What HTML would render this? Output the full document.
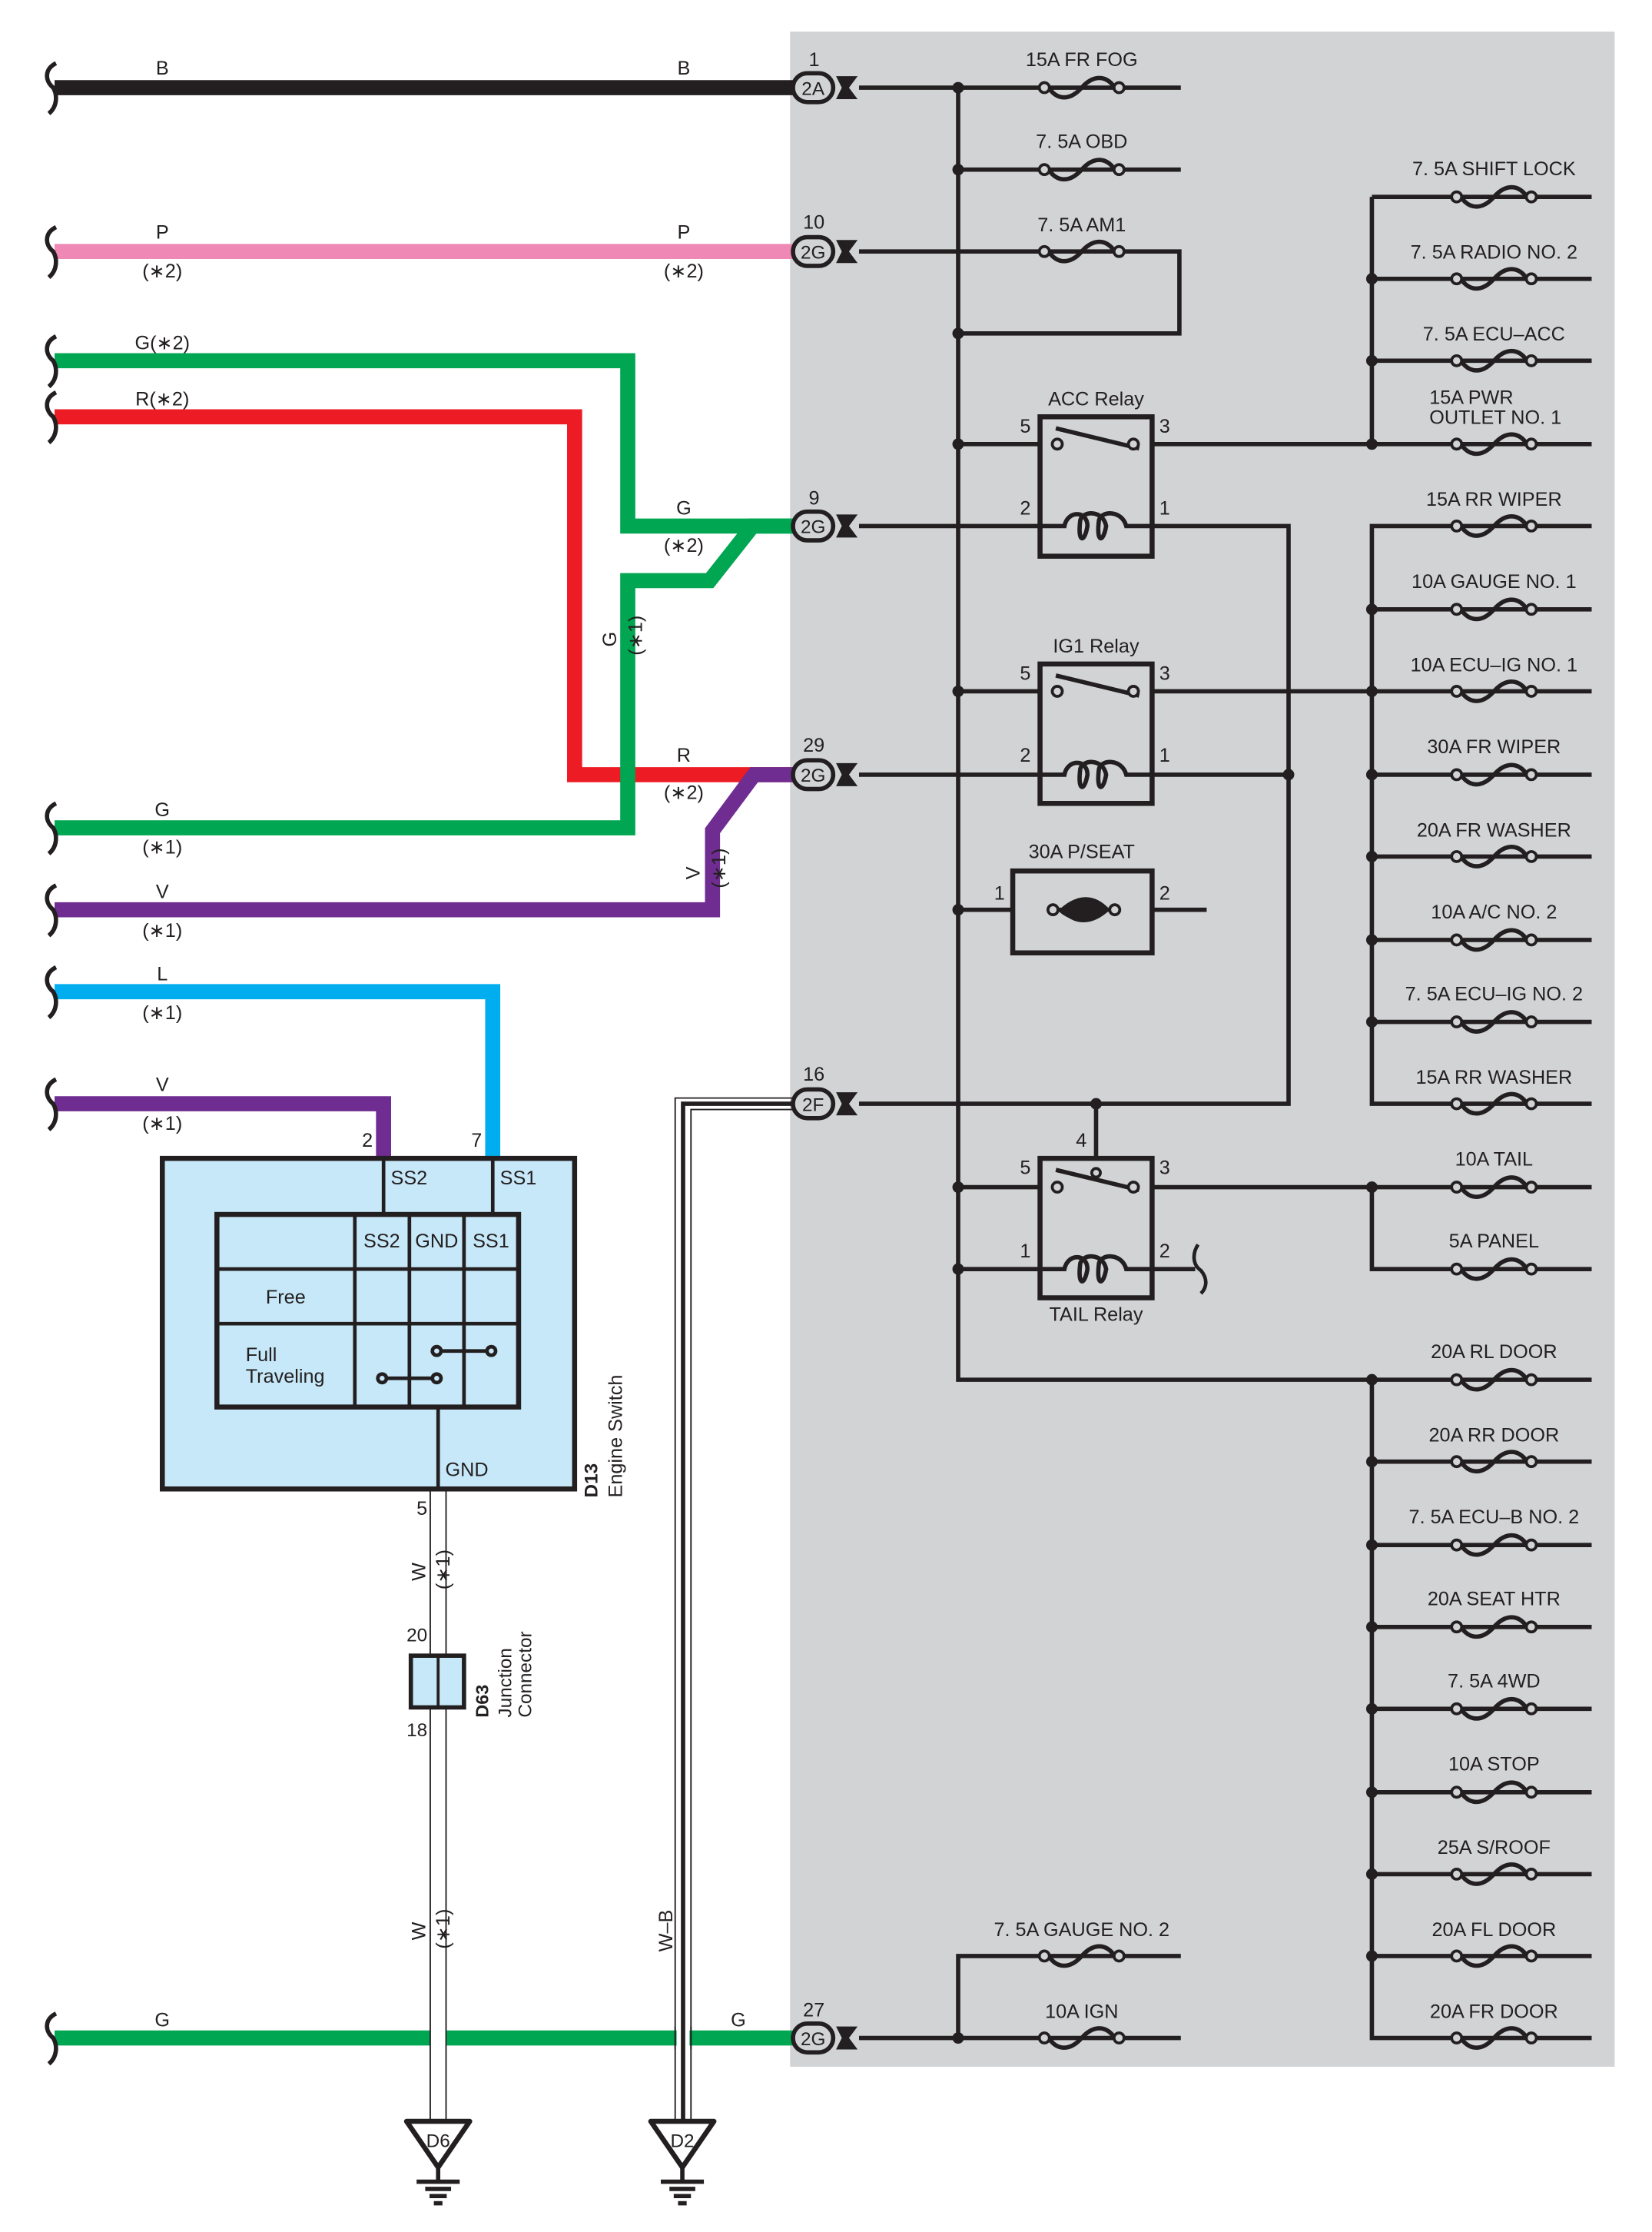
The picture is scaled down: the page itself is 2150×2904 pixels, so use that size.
<!DOCTYPE html>
<html><head><meta charset="utf-8"><style>
html,body{margin:0;padding:0;background:#fff;}
svg{display:block;}
text{font-family:"Liberation Sans",sans-serif;fill:#231f20;}
</style></head><body>
<svg width="2150" height="2904" viewBox="0 0 1150 1553" preserveAspectRatio="none" xmlns="http://www.w3.org/2000/svg">
<defs>
<g id="f"><path d="M-23,0 C-17,9 -8,9 0,0 C8,-9 17,-9 23,0" fill="none" stroke="#231f20" stroke-width="3"/><circle cx="-26" cy="0" r="3.5" fill="#d1d3d4" stroke="#231f20" stroke-width="2"/><circle cx="26" cy="0" r="3.5" fill="#d1d3d4" stroke="#231f20" stroke-width="2"/></g>
<g id="c"><rect x="-14" y="-10" width="28" height="20" rx="10" fill="#d1d3d4" stroke="#231f20" stroke-width="3"/><path d="M16,-8 L31,-8 L25,0 L31,8 L16,8 L20,0 Z" fill="#231f20"/></g>
<path id="br" d="M39,-17 C31,-13 31,-5 37,0 C40,5 40,13 34,18" fill="none" stroke="#231f20" stroke-width="3"/>
<g id="gnd"><path d="M-22,0 L22,0 L0,32 Z" fill="#fff" stroke="#231f20" stroke-width="3.5" stroke-linejoin="round"/><line x1="0" y1="32" x2="0" y2="42" stroke="#231f20" stroke-width="3"/><line x1="-15" y1="42" x2="15" y2="42" stroke="#231f20" stroke-width="3"/><line x1="-9" y1="47" x2="9" y2="47" stroke="#231f20" stroke-width="3"/><line x1="-6" y1="52" x2="6" y2="52" stroke="#231f20" stroke-width="3"/><line x1="-3" y1="57" x2="3" y2="57" stroke="#231f20" stroke-width="3"/></g>
</defs>
<rect x="550" y="22" width="574" height="1416" fill="#d1d3d4"/>

<!-- left wires -->
<g fill="none" stroke-width="10.5" stroke-linejoin="miter">
<path d="M38,61 H553" stroke="#231f20"/>
<path d="M38,175 H553" stroke="#f088b6"/>
<path d="M38,251 H437 V366 H553" stroke="#00a651"/>
<path d="M38,290 H400 V539 H553" stroke="#ed1c24"/>
<path d="M38,576 H437 V404 H494 L524,366 H553" stroke="#00a651"/>
<path d="M38,633 H496 V578 L525,539 H553" stroke="#6f2c91"/>
<path d="M38,690 H343 V806" stroke="#00aeef"/>
<path d="M38,768 H267 V806" stroke="#6f2c91"/>
<path d="M38,1418 H553" stroke="#00a651"/>
</g>
<use href="#br" x="0" y="61"/><use href="#br" x="0" y="175"/><use href="#br" x="0" y="251"/><use href="#br" x="0" y="290"/><use href="#br" x="0" y="576"/><use href="#br" x="0" y="633"/><use href="#br" x="0" y="690"/><use href="#br" x="0" y="768"/><use href="#br" x="0" y="1418"/>

<!-- W wire -->
<rect x="299" y="1036" width="12" height="440" fill="#fff"/>
<line x1="299.5" y1="1036" x2="299.5" y2="1476" stroke="#231f20" stroke-width="1"/>
<line x1="310.5" y1="1036" x2="310.5" y2="1476" stroke="#231f20" stroke-width="1"/>
<!-- W-B wire -->
<path d="M553,764 H470 V1476 M553,772 H481 V1476" fill="none" stroke="#231f20" stroke-width="1"/>
<rect x="471" y="1410" width="9" height="16" fill="#fff"/>
<path d="M553,768 H475.5 V1476" fill="none" stroke="#231f20" stroke-width="3"/>
<line x1="470" y1="1410" x2="470" y2="1426" stroke="#231f20" stroke-width="1"/>
<line x1="481" y1="1410" x2="481" y2="1426" stroke="#231f20" stroke-width="1"/>

<!-- grounds -->
<use href="#gnd" x="305" y="1476"/><use href="#gnd" x="475" y="1476"/>
<text x="305" y="1494" font-size="13" text-anchor="middle">D6</text>
<text x="475" y="1494" font-size="13" text-anchor="middle">D2</text>

<!-- Engine switch -->
<rect x="113" y="806" width="287" height="230" fill="#c7e8f8" stroke="#231f20" stroke-width="3.5"/>
<rect x="151" y="845" width="210" height="134" fill="none" stroke="#231f20" stroke-width="3.5"/>
<g stroke="#231f20" stroke-width="2.5" fill="none">
<line x1="267" y1="806" x2="267" y2="845"/><line x1="343" y1="806" x2="343" y2="845"/>
<line x1="247" y1="845" x2="247" y2="979"/><line x1="285" y1="845" x2="285" y2="979"/><line x1="323" y1="845" x2="323" y2="979"/>
<line x1="151" y1="883" x2="361" y2="883"/><line x1="151" y1="921" x2="361" y2="921"/>
<line x1="305" y1="979" x2="305" y2="1036"/>
<line x1="266" y1="959" x2="304" y2="959"/><line x1="304" y1="940" x2="342" y2="940"/>
<circle cx="266" cy="959" r="3" fill="#c7e8f8"/><circle cx="304" cy="959" r="3" fill="#c7e8f8"/>
<circle cx="304" cy="940" r="3" fill="#c7e8f8"/><circle cx="342" cy="940" r="3" fill="#c7e8f8"/>
</g>
<g font-size="13.5">
<text x="272" y="824">SS2</text><text x="348" y="824">SS1</text>
<text x="253" y="868">SS2</text><text x="289" y="868">GND</text><text x="329" y="868">SS1</text>
<text x="185" y="907">Free</text><text x="171" y="947">Full</text><text x="171" y="962">Traveling</text>
<text x="310" y="1027">GND</text>
<text x="252" y="798">2</text><text x="328" y="798">7</text>
<text x="290" y="1054">5</text>
</g>
<text transform="translate(416,1042) rotate(-90)" font-size="13" font-weight="bold">D13</text>
<text transform="translate(433,1042) rotate(-90)" font-size="13.5">Engine Switch</text>

<!-- junction connector -->
<rect x="286" y="1152" width="37" height="36" fill="#c7e8f8" stroke="#231f20" stroke-width="3"/>
<line x1="305" y1="1152" x2="305" y2="1188" stroke="#231f20" stroke-width="2"/>
<text x="283" y="1142" font-size="13">20</text><text x="283" y="1208" font-size="13">18</text>
<text transform="translate(340,1195) rotate(-90)" font-size="12.5" font-weight="bold">D63</text>
<text transform="translate(356,1195) rotate(-90)" font-size="13">Junction</text>
<text transform="translate(370,1195) rotate(-90)" font-size="13">Connector</text>

<!-- wire labels -->
<g font-size="13.5" text-anchor="middle">
<text x="113" y="52">B</text><text x="476" y="52">B</text>
<text x="113" y="166">P</text><text x="476" y="166">P</text>
<text x="113" y="193">(∗2)</text><text x="476" y="193">(∗2)</text>
<text x="113" y="243">G(∗2)</text><text x="113" y="282">R(∗2)</text>
<text x="476" y="358">G</text><text x="476" y="384">(∗2)</text>
<text x="476" y="530">R</text><text x="476" y="556">(∗2)</text>
<text x="113" y="568">G</text><text x="113" y="594">(∗1)</text>
<text x="113" y="625">V</text><text x="113" y="652">(∗1)</text>
<text x="113" y="682">L</text><text x="113" y="709">(∗1)</text>
<text x="113" y="759">V</text><text x="113" y="786">(∗1)</text>
<text x="113" y="1410">G</text><text x="514" y="1410">G</text>
</g>
<g font-size="13.5">
<text transform="translate(429,450) rotate(-90)">G</text>
<text transform="translate(447,456) rotate(-90)">(∗1)</text>
<text transform="translate(487,612) rotate(-90)">V</text>
<text transform="translate(505,618) rotate(-90)">(∗1)</text>
<text transform="translate(296,1100) rotate(-90)">W</text>
<text transform="translate(313,1106) rotate(-90)">(∗1)</text>
<text transform="translate(296,1350) rotate(-90)">W</text>
<text transform="translate(313,1356) rotate(-90)">(∗1)</text>
<text transform="translate(468,1358) rotate(-90)">W–B</text>
</g>

<!-- connectors -->
<g font-size="13.5">
<use href="#c" x="566" y="61"/><use href="#c" x="566" y="175"/><use href="#c" x="566" y="366"/><use href="#c" x="566" y="539"/><use href="#c" x="566" y="768"/><use href="#c" x="566" y="1418"/>
<text x="566" y="66" text-anchor="middle" font-size="13">2A</text>
<text x="566" y="180" text-anchor="middle" font-size="13">2G</text>
<text x="566" y="371" text-anchor="middle" font-size="13">2G</text>
<text x="566" y="544" text-anchor="middle" font-size="13">2G</text>
<text x="566" y="773" text-anchor="middle" font-size="13">2F</text>
<text x="566" y="1423" text-anchor="middle" font-size="13">2G</text>
<text x="563" y="46">1</text><text x="559" y="159">10</text><text x="563" y="351">9</text><text x="559" y="523">29</text><text x="559" y="752">16</text><text x="559" y="1403">27</text>
</g>

<!-- internal wiring -->
<g fill="none" stroke="#231f20" stroke-width="3">
<path d="M598,61 H822"/><path d="M667,118 H822"/>
<path d="M598,175 H821 V232 H667"/>
<path d="M667,61 V960 H1108"/>
<path d="M598,366 H897 V768 H598"/>
<path d="M598,539 H897"/>
<path d="M667,309 H724 M802,309 H1108"/>
<path d="M667,481 H724 M802,481 H1108"/>
<path d="M667,633 H840"/>
<path d="M763,768 V806"/>
<path d="M667,826 H724 M802,826 H1108"/>
<path d="M667,883 H724 M802,883 H832"/>
<path d="M955,137 H1108 M955,137 V309"/>
<path d="M955,194 H1108 M955,251 H1108"/>
<path d="M1108,366 H955 V768 H1108"/>
<path d="M955,424 H1108 M955,539 H1108 M955,596 H1108 M955,654 H1108 M955,711 H1108"/>
<path d="M955,826 V883 H1108"/>
<path d="M955,960 V1418 H1108"/>
<path d="M955,1017 H1108 M955,1075 H1108 M955,1132 H1108 M955,1189 H1108 M955,1247 H1108 M955,1304 H1108 M955,1361 H1108"/>
<path d="M598,1418 H822 M667,1418 V1361 H822"/>
<path d="M834,866 C830,872 830,880 836,884 C841,890 840,896 836,900" stroke-width="2.5"/>
</g>
<!-- dots -->
<g fill="#231f20">
<circle cx="667" cy="61" r="4"/><circle cx="667" cy="118" r="4"/><circle cx="667" cy="232" r="4"/><circle cx="667" cy="309" r="4"/><circle cx="667" cy="481" r="4"/><circle cx="667" cy="633" r="4"/><circle cx="667" cy="826" r="4"/><circle cx="667" cy="883" r="4"/><circle cx="667" cy="1418" r="4"/>
<circle cx="897" cy="539" r="4"/><circle cx="763" cy="768" r="4"/>
<circle cx="955" cy="194" r="4"/><circle cx="955" cy="251" r="4"/><circle cx="955" cy="309" r="4"/>
<circle cx="955" cy="424" r="4"/><circle cx="955" cy="481" r="4"/><circle cx="955" cy="539" r="4"/><circle cx="955" cy="596" r="4"/><circle cx="955" cy="654" r="4"/><circle cx="955" cy="711" r="4"/>
<circle cx="955" cy="826" r="4"/><circle cx="955" cy="960" r="4"/>
<circle cx="955" cy="1017" r="4"/><circle cx="955" cy="1075" r="4"/><circle cx="955" cy="1132" r="4"/><circle cx="955" cy="1189" r="4"/><circle cx="955" cy="1247" r="4"/><circle cx="955" cy="1304" r="4"/><circle cx="955" cy="1361" r="4"/>
</g>

<!-- relays -->
<g fill="#d1d3d4" stroke="#231f20" stroke-width="3.5">
<rect x="724" y="290" width="78" height="97"/>
<rect x="724" y="462" width="78" height="97"/>
<rect x="724" y="806" width="78" height="97"/>
<rect x="705" y="606" width="97" height="57"/>
</g>
<g fill="none" stroke="#231f20" stroke-width="3">
<path d="M735,298 L793,312"/><path d="M735,470 L793,484"/><path d="M735,814 L793,828"/>
<path d="M724,366 H741 C743,355 757,355 757,366 C755,378 750,378 752,362 C754,355 768,355 770,366 C768,378 763,378 765,362 C767,355 781,355 784,366 H802"/>
<path d="M724,539 H741 C743,528 757,528 757,539 C755,551 750,551 752,535 C754,528 768,528 770,539 C768,551 763,551 765,535 C767,528 781,528 784,539 H802"/>
<path d="M724,883 H741 C743,872 757,872 757,883 C755,895 750,895 752,879 C754,872 768,872 770,883 C768,895 763,895 765,879 C767,872 781,872 784,883 H802"/>
<path d="M732,633 H738 C748,642 760,640 770,633 H778" stroke-width="3"/>
<path d="M738,633 C750,622 762,622 772,633 C760,644 748,644 738,633 Z" fill="#231f20" stroke-width="1"/>
</g>
<g fill="#d1d3d4" stroke="#231f20" stroke-width="2">
<circle cx="736" cy="309" r="3.5"/><circle cx="789" cy="309" r="3.5"/>
<circle cx="736" cy="481" r="3.5"/><circle cx="789" cy="481" r="3.5"/>
<circle cx="736" cy="826" r="3.5"/><circle cx="789" cy="826" r="3.5"/><circle cx="763" cy="816" r="3"/>
<circle cx="733" cy="633" r="3.5"/><circle cx="776" cy="633" r="3.5"/>
</g>
<g font-size="13.5">
<text x="763" y="282" text-anchor="middle">ACC Relay</text>
<text x="763" y="454" text-anchor="middle">IG1 Relay</text>
<text x="763" y="919" text-anchor="middle">TAIL Relay</text>
<text x="753" y="597" text-anchor="middle">30A P/SEAT</text>
<text x="710" y="301">5</text><text x="807" y="301">3</text><text x="710" y="358">2</text><text x="807" y="358">1</text>
<text x="710" y="473">5</text><text x="807" y="473">3</text><text x="710" y="530">2</text><text x="807" y="530">1</text>
<text x="692" y="626">1</text><text x="807" y="626">2</text>
<text x="749" y="798">4</text><text x="710" y="817">5</text><text x="807" y="817">3</text><text x="710" y="875">1</text><text x="807" y="875">2</text>
</g>

<!-- fuses -->
<use href="#f" x="753" y="61"/><use href="#f" x="753" y="118"/><use href="#f" x="753" y="175"/><use href="#f" x="753" y="1361"/><use href="#f" x="753" y="1418"/>
<use href="#f" x="1040" y="137"/><use href="#f" x="1040" y="194"/><use href="#f" x="1040" y="251"/><use href="#f" x="1040" y="309"/><use href="#f" x="1040" y="366"/><use href="#f" x="1040" y="424"/><use href="#f" x="1040" y="481"/><use href="#f" x="1040" y="539"/><use href="#f" x="1040" y="596"/><use href="#f" x="1040" y="654"/><use href="#f" x="1040" y="711"/><use href="#f" x="1040" y="768"/><use href="#f" x="1040" y="826"/><use href="#f" x="1040" y="883"/><use href="#f" x="1040" y="960"/><use href="#f" x="1040" y="1017"/><use href="#f" x="1040" y="1075"/><use href="#f" x="1040" y="1132"/><use href="#f" x="1040" y="1189"/><use href="#f" x="1040" y="1247"/><use href="#f" x="1040" y="1304"/><use href="#f" x="1040" y="1361"/><use href="#f" x="1040" y="1418"/>
<g font-size="13.5" text-anchor="middle">
<text x="753" y="46">15A FR FOG</text><text x="753" y="103">7. 5A OBD</text><text x="753" y="161">7. 5A AM1</text>
<text x="753" y="1347">7. 5A GAUGE NO. 2</text><text x="753" y="1404">10A IGN</text>
<text x="1040" y="122">7. 5A SHIFT LOCK</text><text x="1040" y="180">7. 5A RADIO NO. 2</text><text x="1040" y="237">7. 5A ECU–ACC</text>
<text x="1040" y="352">15A RR WIPER</text><text x="1040" y="409">10A GAUGE NO. 1</text><text x="1040" y="467">10A ECU–IG NO. 1</text>
<text x="1040" y="524">30A FR WIPER</text><text x="1040" y="582">20A FR WASHER</text><text x="1040" y="639">10A A/C NO. 2</text>
<text x="1040" y="696">7. 5A ECU–IG NO. 2</text><text x="1040" y="754">15A RR WASHER</text><text x="1040" y="811">10A TAIL</text>
<text x="1040" y="868">5A PANEL</text><text x="1040" y="945">20A RL DOOR</text><text x="1040" y="1003">20A RR DOOR</text>
<text x="1040" y="1060">7. 5A ECU–B NO. 2</text><text x="1040" y="1117">20A SEAT HTR</text><text x="1040" y="1174">7. 5A 4WD</text>
<text x="1040" y="1232">10A STOP</text><text x="1040" y="1290">25A S/ROOF</text><text x="1040" y="1347">20A FL DOOR</text><text x="1040" y="1404">20A FR DOOR</text>
</g>
<g font-size="13.5"><text x="995" y="281">15A PWR</text><text x="995" y="295">OUTLET NO. 1</text></g>
</svg>
</body></html>
